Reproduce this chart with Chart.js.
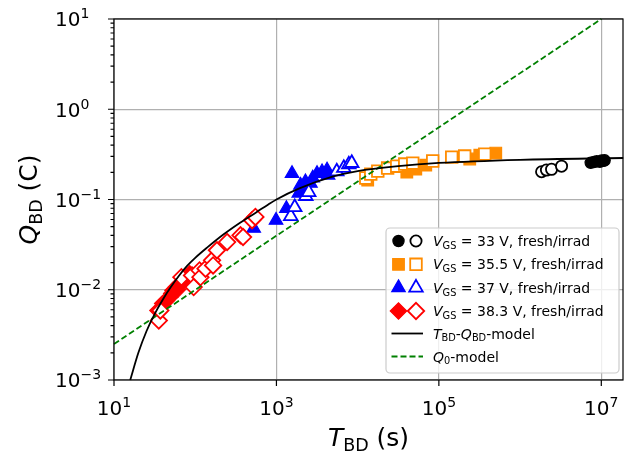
<!DOCTYPE html>
<html>
<head>
<meta charset="utf-8">
<style>html,body{margin:0;padding:0;background:#fff}canvas{display:block}</style>
<script src="https://cdn.jsdelivr.net/npm/chart.js@4.4.1/dist/chart.umd.min.js"></script>
</head>
<body>
<canvas id="c" width="625" height="461"></canvas>
<script>
// breakdown time / breakdown charge

const t33Fresh = [7.4e6, 8.1e6, 8.8e6, 9.6e6, 1.01e7, 1.07e7, 1.1e7];
const q33Fresh = [0.255, 0.26, 0.265, 0.262, 0.27, 0.268, 0.272];
const t33Irrad = [1.84e6, 2.11e6, 2.44e6, 3.24e6];
const q33Irrad = [0.203, 0.212, 0.216, 0.234];

const t355Fresh = [13300, 40300, 52000, 69000, 240000, 319000, 502000];
const q355Fresh = [0.164, 0.201, 0.217, 0.240, 0.281, 0.310, 0.327];
const t355Irrad = [12600, 14500, 17700, 23400, 30300, 38000, 47700, 84000, 144000, 208000, 367000];
const q355Irrad = [0.173, 0.191, 0.206, 0.223, 0.234, 0.247, 0.253, 0.267, 0.295, 0.303, 0.318];

const t37Fresh = [525, 989, 1327, 1556, 1884, 1977, 2113, 2277, 2624, 2800, 3162, 3646, 4200, 4325];
const q37Fresh = [0.048, 0.0589, 0.0794, 0.194, 0.1175, 0.144, 0.1336, 0.157, 0.151, 0.173, 0.194, 0.203, 0.212, 0.186];
const t37Irrad = [1500, 1680, 2300, 2500, 5530, 6750, 7780, 8460];
const q37Irrad = [0.0652, 0.082, 0.109, 0.1205, 0.204, 0.223, 0.244, 0.253];

const t383Fresh = [34.8, 39.8, 44.2, 48.5, 51.4, 53.3, 58.6, 60.8, 64.4, 70.8, 85.5];
const q383Fresh = [0.00589, 0.00705, 0.0076, 0.00828, 0.0091, 0.0098, 0.0107, 0.0101, 0.01167, 0.01268, 0.01507];
const t383Irrad = [35.6, 37.2, 67.6, 91.4, 95.7, 113, 116, 134, 161, 166, 185, 247, 361, 388, 501, 551];
const q383Irrad = [0.00456, 0.00589, 0.0138, 0.0144, 0.0107, 0.0164, 0.0138, 0.0171, 0.0212, 0.0186, 0.0274, 0.0338, 0.0401, 0.0384, 0.0589, 0.0641];

// model curves
const tModel = [15.85, 19.95, 25.1, 31.6, 39.8, 50.1, 63.1, 79.4, 100, 141, 220, 353, 568, 794, 1000, 1950, 5010, 10000, 31600, 1e5, 1e6, 1.86e7];
const qModel = [0.001, 0.002, 0.00347, 0.00537, 0.00776, 0.0107, 0.0143, 0.0184, 0.0226, 0.0295, 0.0407, 0.055, 0.0724, 0.0881, 0.1, 0.1334, 0.1799, 0.2065, 0.2344, 0.2541, 0.2754, 0.2884];
const tQ0 = [10, 1e7];
const qQ0 = [0.0025, 10];

const xTicks = [1e1, 1e3, 1e5, 1e7];
const xTickExp = ['1', '3', '5', '7'];
const yTicks = [1e-3, 1e-2, 1e-1, 1e0, 1e1];
const yTickExp = ['\u22123', '\u22122', '\u22121', '0', '1'];

const legendLabels = ['33', '35.5', '37', '38.3'];

const FONT = "'DejaVu Sans', sans-serif";
const ORANGE = '#ff8c00';

const pts = (ts, qs) => ts.map((t, i) => ({x: t, y: qs[i]}));

function markerSet(ts, qs, color, style, r, open, order) {
  return {
    data: pts(ts, qs),
    showLine: false,
    pointStyle: style,
    pointRadius: r,
    pointHoverRadius: r,
    pointBackgroundColor: open ? '#ffffff' : color,
    pointBorderColor: color,
    pointBorderWidth: open ? 1.8 : 1.2,
    order: order
  };
}

const groups = [
  {t: [t33Fresh, t33Irrad], q: [q33Fresh, q33Irrad], color: '#000000', style: 'circle', r: 5.6},
  {t: [t355Fresh, t355Irrad], q: [q355Fresh, q355Irrad], color: ORANGE, style: 'rect', r: 8.2},
  {t: [t37Fresh, t37Irrad], q: [q37Fresh, q37Irrad], color: '#0000ff', style: 'triangle', r: 7.8},
  {t: [t383Fresh, t383Irrad], q: [q383Fresh, q383Irrad], color: '#ff0000', style: 'rectRot', r: 8.2}
];

const datasets = [
  {data: pts(tModel, qModel), showLine: true, borderColor: '#000000', borderWidth: 1.8,
   pointRadius: 0, cubicInterpolationMode: 'monotone', order: 0, clip: 2},
  {data: pts(tQ0, qQ0), showLine: true, borderColor: '#008000', borderWidth: 1.8,
   borderDash: [6, 3], pointRadius: 0, order: 1, clip: 2}
];
let ord = 20;
groups.forEach(g => {
  datasets.push(markerSet(g.t[0], g.q[0], g.color, g.style, g.r, false, ord--));
  datasets.push(markerSet(g.t[1], g.q[1], g.color, g.style, g.r, true, ord--));
});

// text with italics, subscripts, superscripts
function mathText(ctx, parts, x, y, size, align) {
  const segs = parts.map(([txt, kind]) => {
    const s = (kind === 'sub' || kind === 'sup') ? size * 0.7 : size;
    const font = (kind === 'i' ? 'italic ' : '') + s + 'px ' + FONT;
    ctx.font = font;
    const dy = kind === 'sub' ? size * 0.2 : kind === 'sup' ? -size * 0.4 : 0;
    return {txt, font, dy, w: ctx.measureText(txt).width};
  });
  const total = segs.reduce((a, s) => a + s.w, 0);
  let cx = align === 'center' ? x - total / 2 : align === 'right' ? x - total : x;
  ctx.textAlign = 'left';
  ctx.textBaseline = 'alphabetic';
  segs.forEach(s => {
    ctx.font = s.font;
    ctx.fillText(s.txt, cx, y + s.dy);
    cx += s.w;
  });
}

const decor = {
  id: 'decor',
  afterDraw(chart) {
    const ctx = chart.ctx;
    const xs = chart.scales.x, ys = chart.scales.y;
    const {left, right, top, bottom} = chart.chartArea;
    ctx.save();
    ctx.fillStyle = '#000';
    ctx.strokeStyle = '#000';

    // frame
    ctx.lineWidth = 1.2;
    ctx.strokeRect(left, top, right - left, bottom - top);

    // ticks
    ctx.beginPath();
    xTicks.forEach(v => {
      const px = xs.getPixelForValue(v);
      ctx.moveTo(px, bottom); ctx.lineTo(px, bottom + 6);
    });
    yTicks.forEach(v => {
      const py = ys.getPixelForValue(v);
      ctx.moveTo(left, py); ctx.lineTo(left - 6, py);
    });
    for (let d = -3; d < 1; d++) {
      for (let m = 2; m < 10; m++) {
        const py = ys.getPixelForValue(m * Math.pow(10, d));
        ctx.moveTo(left, py); ctx.lineTo(left - 3.5, py);
      }
    }
    ctx.stroke();

    // tick labels
    const tf = 20;
    xTicks.forEach((v, i) => {
      mathText(ctx, [['10', ''], [xTickExp[i], 'sup']], xs.getPixelForValue(v), 415, tf, 'center');
    });
    yTicks.forEach((v, i) => {
      mathText(ctx, [['10', ''], [yTickExp[i], 'sup']], 55, ys.getPixelForValue(v) + tf * 0.365, tf, 'left');
    });

    // axis titles
    mathText(ctx, [['T', 'i'], ['BD', 'sub'], [' (s)', '']], (left + right) / 2, 446, 25, 'center');
    ctx.save();
    ctx.translate(37, (top + bottom) / 2);
    ctx.rotate(-Math.PI / 2);
    mathText(ctx, [['Q', 'i'], ['BD', 'sub'], [' (C)', '']], 0, 0, 25, 'center');
    ctx.restore();

    // legend
    const bx = 386, by = 228, bw = 233, bh = 145, rad = 4;
    ctx.beginPath();
    ctx.moveTo(bx + rad, by);
    ctx.arcTo(bx + bw, by, bx + bw, by + bh, rad);
    ctx.arcTo(bx + bw, by + bh, bx, by + bh, rad);
    ctx.arcTo(bx, by + bh, bx, by, rad);
    ctx.arcTo(bx, by, bx + bw, by, rad);
    ctx.closePath();
    ctx.fillStyle = 'rgba(255,255,255,0.8)';
    ctx.fill();
    ctx.strokeStyle = '#cccccc';
    ctx.lineWidth = 1.2;
    ctx.stroke();

    const rowY = [241, 264.3, 287.7, 311, 333.5, 356.5];
    const lf = 14;
    groups.forEach((g, i) => {
      const y = rowY[i];
      [false, true].forEach((open, k) => {
        ctx.fillStyle = open ? '#ffffff' : g.color;
        ctx.strokeStyle = g.color;
        ctx.lineWidth = open ? 1.8 : 1.2;
        Chart.helpers.drawPoint(ctx, {pointStyle: g.style, radius: g.r, rotation: 0, borderWidth: ctx.lineWidth},
          k ? 416 : 398.5, y);
      });
      ctx.fillStyle = '#000';
      mathText(ctx, [['V', 'i'], ['GS', 'sub'], [' = ' + legendLabels[i] + ' V, fresh/irrad', '']],
        433, y + lf * 0.36, lf, 'left');
    });
    ctx.lineWidth = 1.8;
    ctx.strokeStyle = '#000';
    ctx.beginPath(); ctx.moveTo(391.5, rowY[4]); ctx.lineTo(423, rowY[4]); ctx.stroke();
    ctx.strokeStyle = '#008000';
    ctx.setLineDash([6, 3]);
    ctx.beginPath(); ctx.moveTo(391.5, rowY[5]); ctx.lineTo(423, rowY[5]); ctx.stroke();
    ctx.setLineDash([]);
    ctx.fillStyle = '#000';
    mathText(ctx, [['T', 'i'], ['BD', 'sub'], ['-', ''], ['Q', 'i'], ['BD', 'sub'], ['-model', '']],
      433, rowY[4] + lf * 0.36, lf, 'left');
    mathText(ctx, [['Q', 'i'], ['0', 'sub'], ['-model', '']], 433, rowY[5] + lf * 0.36, lf, 'left');

    ctx.restore();
  }
};

new Chart(document.getElementById('c'), {
  type: 'scatter',
  data: {datasets},
  options: {
    responsive: false,
    animation: false,
    devicePixelRatio: 1,
    events: [],
    layout: {autoPadding: false, padding: {top: 19, right: 2, left: 0, bottom: 0}},
    plugins: {legend: {display: false}, tooltip: {enabled: false}},
    scales: {
      x: {
        type: 'logarithmic', min: 10, max: 1.85e7,
        afterBuildTicks: s => { s.ticks = xTicks.map(v => ({value: v})); },
        afterFit: s => { s.height = 81; },
        ticks: {display: false},
        grid: {color: '#b0b0b0', lineWidth: 1.2, drawTicks: false},
        border: {display: false}
      },
      y: {
        type: 'logarithmic', min: 1e-3, max: 10,
        afterBuildTicks: s => { s.ticks = yTicks.map(v => ({value: v})); },
        afterFit: s => { s.width = 114; },
        ticks: {display: false},
        grid: {color: '#b0b0b0', lineWidth: 1.2, drawTicks: false},
        border: {display: false}
      }
    }
  },
  plugins: [decor]
});
</script>
</body>
</html>
